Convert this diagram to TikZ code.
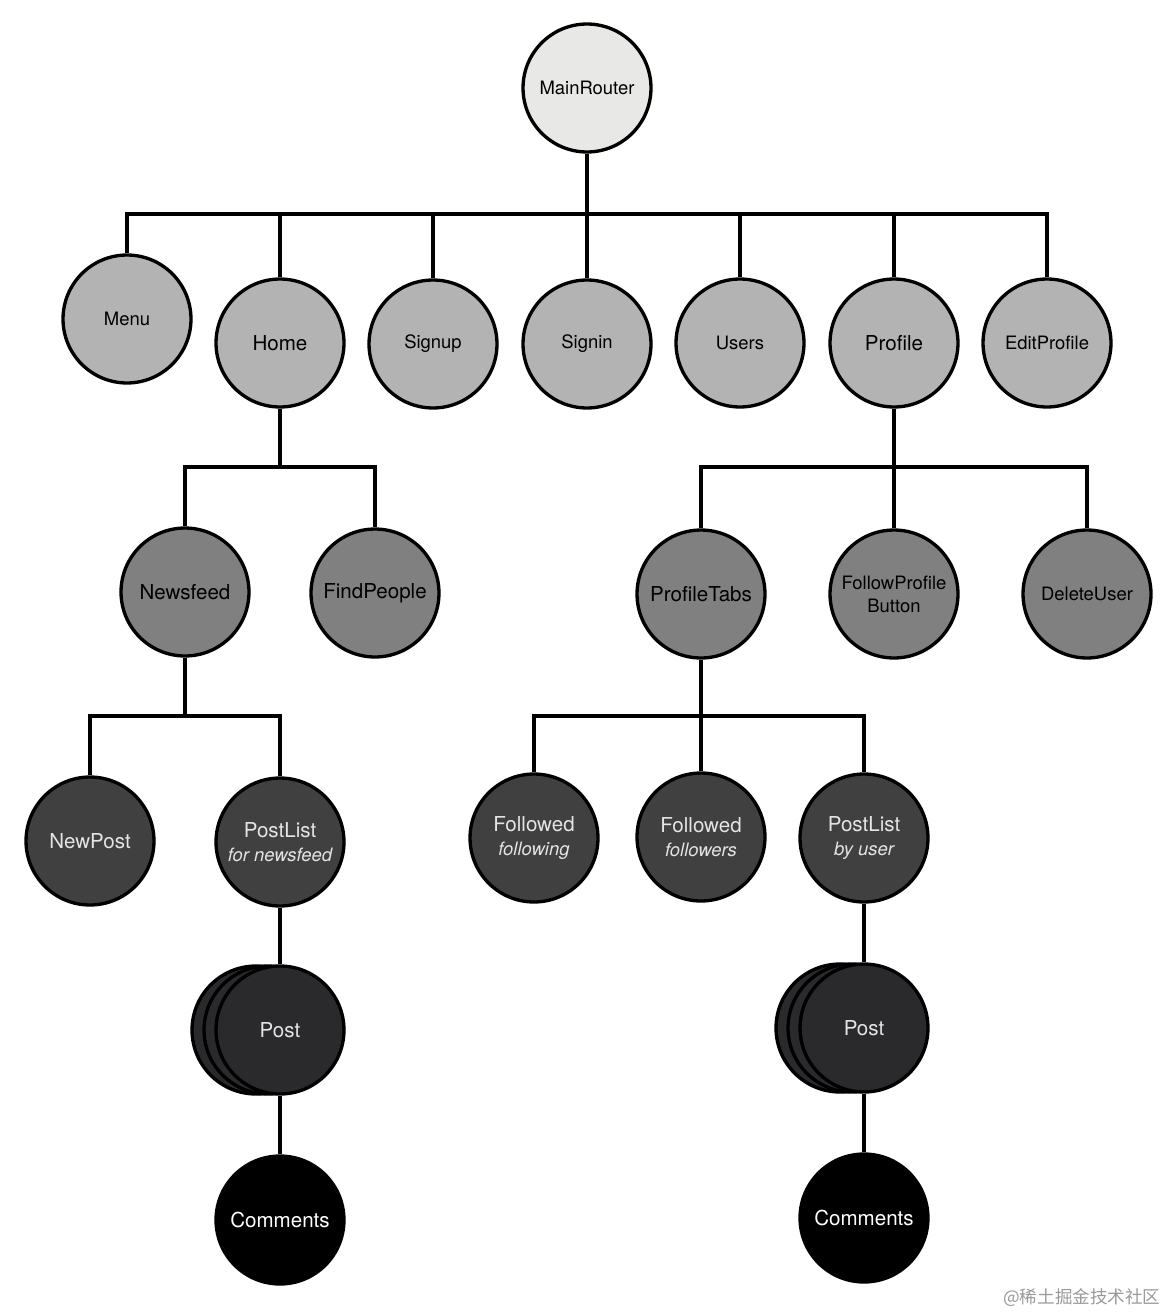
\documentclass[tikz,border=0pt]{standalone}
\usepackage{fontspec}
\setmainfont{TeX Gyre Heros}
\newfontfamily\cjk{Noto Sans CJK SC}
\definecolor{farbenull}{HTML}{E8E8E6}
\definecolor{farbeeins}{HTML}{B3B3B3}
\definecolor{farbezwei}{HTML}{808080}
\definecolor{farbedrei}{HTML}{404040}
\definecolor{farbevier}{HTML}{2A2A2C}
\definecolor{schrifthell}{HTML}{E4E4E4}
\newcommand\unter[1]{{\itshape\fontsize{10.5}{13.6}\selectfont #1}}
\begin{document}
\begin{tikzpicture}[x=0.02cm, y=-0.02cm, line width=1.9pt,
  knoten/.style={circle, draw=black, line width=1.9pt, minimum size=2.56cm,
    inner sep=0pt, align=center, font=\fontsize{11.7}{13.6}\selectfont},
  klein/.style={font=\fontsize{10.5}{13}\selectfont},
  ebene0/.style={knoten, fill=farbenull},
  ebene1/.style={knoten, fill=farbeeins},
  ebene2/.style={knoten, fill=farbezwei},
  ebene3/.style={knoten, fill=farbedrei, text=schrifthell},
  ebene4/.style={knoten, fill=farbevier, text=schrifthell},
  ebene5/.style={knoten, fill=black, text=white}]
\useasboundingbox (0,0) rectangle (1176,1315);
\def\rk{1.28cm} % Radius Stapelkreise
% Wurzel
\node[ebene0, klein] (MR) at (587,88) {MainRouter};
% Ebene 1
\node[ebene1, klein] (menu)        at (127,319)  {Menu};
\node[ebene1]        (home)        at (280,343)  {Home};
\node[ebene1, klein] (signup)      at (433,344)  {Signup};
\node[ebene1, klein] (signin)      at (587,344)  {Signin};
\node[ebene1, klein] (users)       at (740,343)  {Users};
\node[ebene1]        (profile)     at (894,343)  {Profile};
\node[ebene1, klein] (editprofile) at (1047,343) {EditProfile};
% Ebene 2
\node[ebene2]        (newsfeed)    at (185,592)  {Newsfeed};
\node[ebene2]        (findpeople)  at (375,593)  {FindPeople};
\node[ebene2]        (profiletabs) at (701,594)  {ProfileTabs};
\node[ebene2, klein] (followbtn)   at (894,594)  {FollowProfile\\Button};
\node[ebene2, klein] (deleteuser)  at (1087,594) {DeleteUser};
% Ebene 3
\node[ebene3] (newpost)    at (90,841)  {NewPost};
\node[ebene3] (postlistnf) at (280,842) {PostList\\\unter{for newsfeed}};
\node[ebene3] (following)  at (534,838) {Followed\\\unter{following}};
\node[ebene3] (followers)  at (701,837) {Followed\\\unter{followers}};
\node[ebene3] (postlistu)  at (864,838) {PostList\\\unter{by user}};
% Post-Stapel
\foreach \dx in {24,12} {
  \draw[fill=farbevier] (280-\dx,1030) circle (\rk);
  \draw[fill=farbevier] (864-\dx,1028) circle (\rk);
}
\node[ebene4] (postnf) at (280,1030) {Post};
\node[ebene4] (postu)  at (864,1028) {Post};
% Ebene 5
\node[ebene5] (commentsnf) at (280,1220) {Comments};
\node[ebene5] (commentsu)  at (864,1218) {Comments};
% Verbindungen
\coordinate (b0) at (587,214);
\coordinate (b1) at (280,467);
\coordinate (b2) at (894,467);
\coordinate (b3) at (185,716);
\coordinate (b4) at (701,716);
\draw (MR) -- (b0);
\foreach \k in {menu,home,signup,signin,users,profile,editprofile}
  \draw (b0) -| (\k);
\draw (home) -- (b1);
\foreach \k in {newsfeed,findpeople} \draw (b1) -| (\k);
\draw (profile) -- (b2);
\foreach \k in {profiletabs,followbtn,deleteuser} \draw (b2) -| (\k);
\draw (newsfeed) -- (b3);
\foreach \k in {newpost,postlistnf} \draw (b3) -| (\k);
\draw (profiletabs) -- (b4);
\foreach \k in {following,followers,postlistu} \draw (b4) -| (\k);
\draw (postlistnf) -- (postnf);
\draw (postnf) -- (commentsnf);
\draw (postlistu) -- (postu);
\draw (postu) -- (commentsu);
% Wasserzeichen
\node[anchor=east, text=black!40, font=\cjk\fontsize{10}{12}\selectfont] (wm)
  at (1168,1298) {@稀土掘金技术社区};
\end{tikzpicture}
\end{document}
